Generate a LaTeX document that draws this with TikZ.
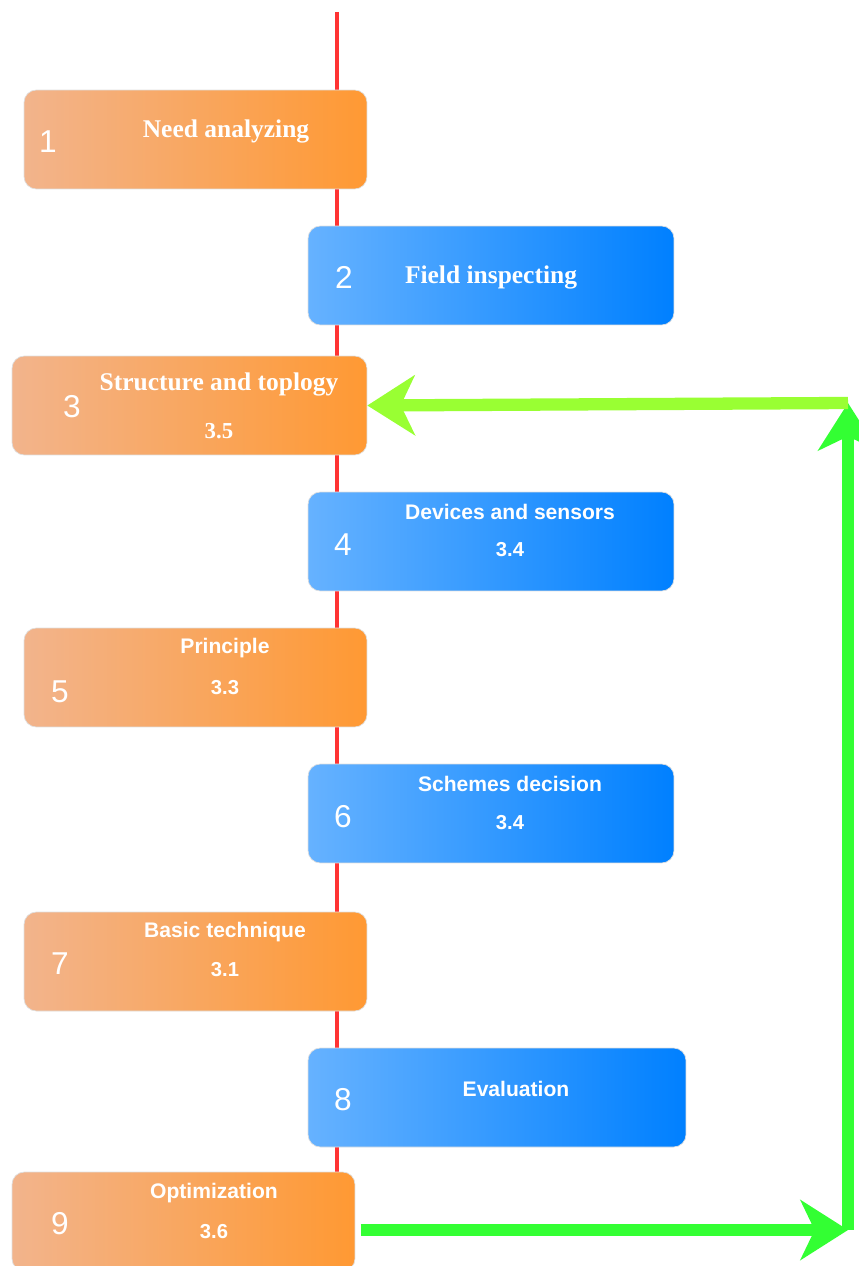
\documentclass[tikz,border=0pt]{standalone}
\usepackage{fontspec}
\setmainfont{Liberation Serif}
\setsansfont{Liberation Sans}
\usetikzlibrary{arrows.meta}
\definecolor{orangeL}{HTML}{F2B48C}
\definecolor{orangeR}{HTML}{FF9933}
\definecolor{blueL}{HTML}{66B2FF}
\definecolor{blueR}{HTML}{0080FF}
\definecolor{axisred}{HTML}{FF3333}
\definecolor{limeA}{HTML}{99FF33}
\definecolor{limeB}{HTML}{33FF33}
\begin{document}
\begin{tikzpicture}[x=0.02cm,y=-0.02cm,
  box/.style={rounded corners=7pt, minimum height=1.98cm, inner sep=0pt, draw=white!75!gray, line width=0.4pt},
  orangebox/.style={box, left color=orangeL, right color=orangeR},
  bluebox/.style={box, left color=blueL, right color=blueR},
  num/.style={text=white, yshift=-1pt, font=\sffamily\fontsize{18}{20}\selectfont},
  serifttl/.style={text=white, yshift=-1pt, font=\rmfamily\bfseries\fontsize{14.5}{16}\selectfont},
  sansttl/.style={text=white, yshift=-1pt, font=\sffamily\bfseries\fontsize{12}{14}\selectfont},
  serifval/.style={text=white, yshift=-1pt, font=\rmfamily\bfseries\fontsize{13}{15}\selectfont},
  sansval/.style={text=white, yshift=-1pt, font=\sffamily\bfseries\fontsize{11.5}{13}\selectfont},
  feedback/.style={line width=7pt, -{Stealth[length=27pt, width=34pt, inset=8pt]}}]
\useasboundingbox (0,0) rectangle (858,1266);
\coordinate (rtop) at (337,12);
\coordinate (rbot) at (337,1180);
\draw[axisred, line width=2.3pt] (rtop) -- (rbot);

\node[orangebox, minimum width=6.86cm] (b1) at (195.5,139.5) {};
\node[bluebox, minimum width=7.32cm] (b2) at (491,275.5) {};
\node[orangebox, minimum width=7.1cm] (b3) at (189.5,405.5) {};
\node[bluebox, minimum width=7.32cm] (b4) at (491,541.5) {};
\node[orangebox, minimum width=6.86cm] (b5) at (195.5,677.5) {};
\node[bluebox, minimum width=7.32cm] (b6) at (491,813.5) {};
\node[orangebox, minimum width=6.86cm] (b7) at (195.5,961.5) {};
\node[bluebox, minimum width=7.56cm] (b8) at (497,1097.5) {};
\node[orangebox, minimum width=6.86cm] (b9) at (183.5,1221.5) {};

\node[num] (n1) at (48,140) {1};
\node[serifttl] (t1) at (226,130) {Need analyzing};
\node[num] (n2) at (344,276) {2};
\node[serifttl] (t2) at (491,276) {Field inspecting};
\node[num] (n3) at (72,405) {3};
\node[serifttl] (t3) at (219,383) {Structure and toplogy};
\node[serifval] (v3) at (219,429) {3.5};
\node[num] (n4) at (343,543) {4};
\node[sansttl] (t4) at (510,510) {Devices and sensors};
\node[sansval] (v4) at (510,548) {3.4};
\node[num] (n5) at (60,690) {5};
\node[sansttl] (t5) at (225,646) {Principle};
\node[sansval] (v5) at (225,686) {3.3};
\node[num] (n6) at (343,815) {6};
\node[sansttl] (t6) at (510,782) {Schemes decision};
\node[sansval] (v6) at (510,821) {3.4};
\node[num] (n7) at (60,962) {7};
\node[sansttl] (t7) at (225,930) {Basic technique};
\node[sansval] (v7) at (225,968) {3.1};
\node[num] (n8) at (343,1098) {8};
\node[sansttl] (t8) at (516,1087) {Evaluation};
\node[num] (n9) at (60,1222) {9};
\node[sansttl] (t9) at (214,1191) {Optimization};
\node[sansval] (v9) at (214,1230) {3.6};

\coordinate (cbot) at (848,1230);
\coordinate (ctop) at (848,403);
\draw[feedback, limeB, shorten <=3pt] (b9.east |- cbot) -- (cbot);
\draw[feedback, limeB] (cbot) -- (ctop);
\draw[feedback, limeA] (ctop) -- (b3.east);
\end{tikzpicture}
\end{document}
